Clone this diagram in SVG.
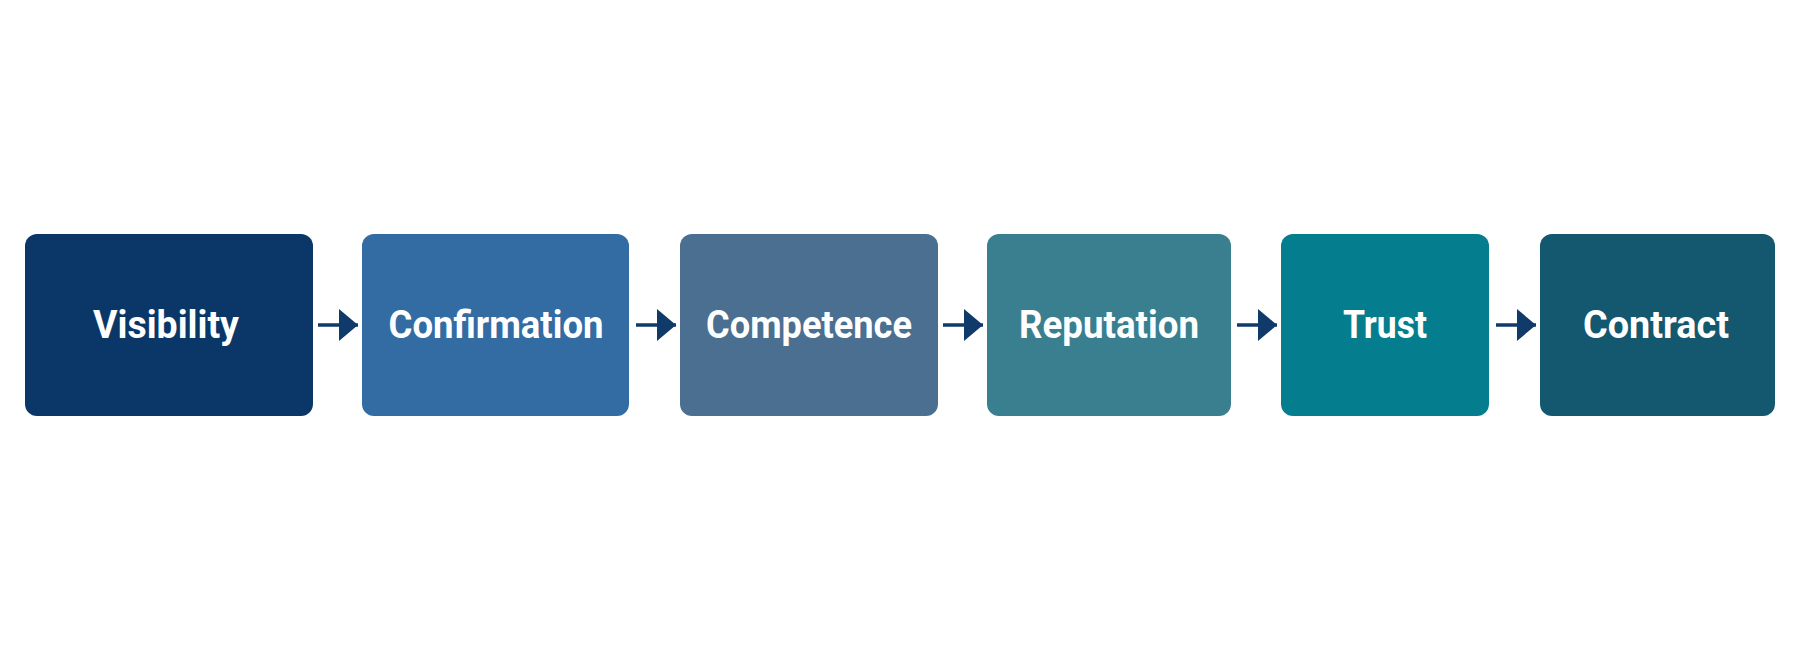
<svg xmlns="http://www.w3.org/2000/svg" width="1800" height="648" viewBox="0 0 1800 648">
<defs>
<style>
.b{stroke:none}
.t{font-family:Roboto,"DejaVu Sans",sans-serif;font-weight:bold;font-size:38px;fill:#fff;text-anchor:middle}
.c{stroke:#0f3a6a;stroke-width:3.5;fill:none}
</style>
<marker id="ah" viewBox="0 0 10 10" refX="10" refY="5" markerWidth="19" markerHeight="32" markerUnits="userSpaceOnUse" orient="auto" preserveAspectRatio="none"><path d="M0,0L10,5L0,10Z" fill="#0f3a6a"/></marker>
</defs>
<rect width="1800" height="648" fill="#fff"/>
<g id="n1"><rect class="b" x="25" y="234" width="288" height="182" rx="12" fill="#0a3768"/><text class="t" x="166" y="338" textLength="146" lengthAdjust="spacingAndGlyphs">Visibility</text></g>
<g id="n2"><rect class="b" x="362" y="234" width="267" height="182" rx="12" fill="#336ba3"/><text class="t" x="496" y="338" textLength="215" lengthAdjust="spacingAndGlyphs">Confirmation</text></g>
<g id="n3"><rect class="b" x="680" y="234" width="258" height="182" rx="12" fill="#4a6f90"/><text class="t" x="809" y="338" textLength="206" lengthAdjust="spacingAndGlyphs">Competence</text></g>
<g id="n4"><rect class="b" x="987" y="234" width="244" height="182" rx="12" fill="#3a7f90"/><text class="t" x="1109" y="338" textLength="180" lengthAdjust="spacingAndGlyphs">Reputation</text></g>
<g id="n5"><rect class="b" x="1281" y="234" width="208" height="182" rx="12" fill="#047e8e"/><text class="t" x="1385" y="338" textLength="84" lengthAdjust="spacingAndGlyphs">Trust</text></g>
<g id="n6"><rect class="b" x="1540" y="234" width="235" height="182" rx="12" fill="#13586e"/><text class="t" x="1656" y="338" textLength="146" lengthAdjust="spacingAndGlyphs">Contract</text></g>
<g id="connectors">
<line class="c" x1="318" y1="325" x2="358" y2="325" marker-end="url(#ah)"/>
<line class="c" x1="636" y1="325" x2="676" y2="325" marker-end="url(#ah)"/>
<line class="c" x1="943" y1="325" x2="983" y2="325" marker-end="url(#ah)"/>
<line class="c" x1="1237" y1="325" x2="1277" y2="325" marker-end="url(#ah)"/>
<line class="c" x1="1496" y1="325" x2="1536" y2="325" marker-end="url(#ah)"/>
</g>
</svg>
